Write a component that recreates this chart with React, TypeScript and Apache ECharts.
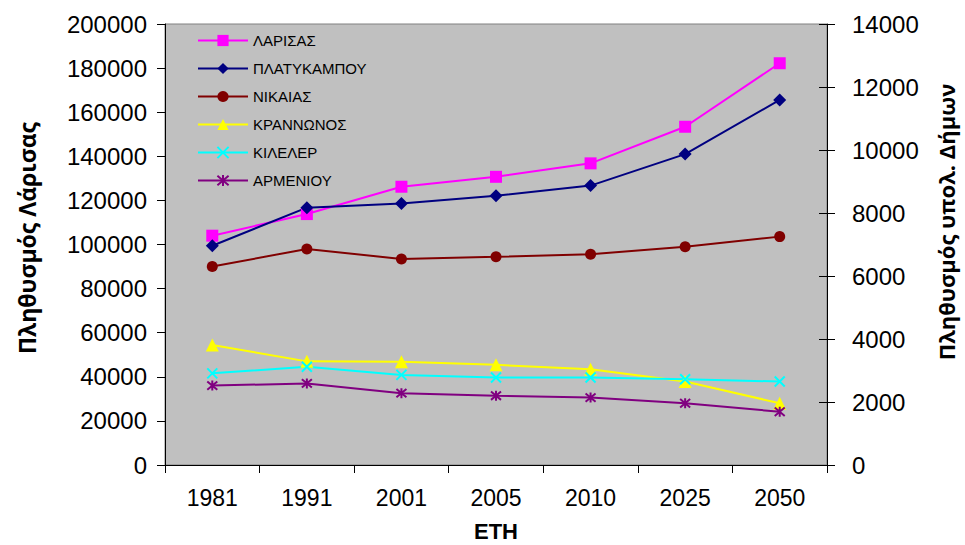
import React, { useEffect, useRef } from "react";
import * as echarts from "echarts";

// Census years and projections
const years = ["1981", "1991", "2001", "2005", "2010", "2025", "2050"];

// Population of Larissa (left axis)
const larisa = [104000, 113800, 126200, 130700, 136800, 153400, 182200];

// Populations of the remaining municipalities (right axis)
const platykampos = [6960, 8170, 8300, 8550, 8870, 9870, 11590];
const nikaia = [6300, 6860, 6540, 6610, 6690, 6930, 7250];
const krannon = [3810, 3290, 3280, 3180, 3040, 2650, 1960];
const kileler = [2910, 3120, 2860, 2780, 2780, 2720, 2650];
const armenio = [2520, 2590, 2280, 2200, 2140, 1960, 1690];

const leftTicks = { min: 0, max: 200000, interval: 20000 };
const rightTicks = { min: 0, max: 14000, interval: 2000 };

const FONT = "'Liberation Sans', Arial, sans-serif";
const TITLE_FONT = "'Open Sans', 'DejaVu Sans', sans-serif";

const CROSS = "path://M0,0L10,10M10,0L0,10";
const STAR = "path://M0,0L10,10M10,0L0,10M5,-1L5,11";

export default function App() {
  const ref = useRef<HTMLDivElement>(null);

  useEffect(() => {
    const chart = echarts.init(ref.current!, null, { renderer: "svg" });

    const line = (
      name: string,
      data: number[],
      color: string,
      symbol: string,
      symbolSize: number,
      yAxisIndex: number,
      stroked = false
    ) => ({
      name,
      type: "line",
      data,
      yAxisIndex,
      symbol,
      symbolSize,
      showSymbol: true,
      lineStyle: { color, width: 2 },
      itemStyle: stroked
        ? { color, borderColor: color, borderWidth: 2 }
        : { color, borderColor: color, borderWidth: 0 },
      emphasis: { disabled: true },
    });

    chart.setOption({
      animation: false,
      backgroundColor: "#ffffff",
      grid: {
        left: 165,
        right: 138,
        top: 24,
        bottom: 80,
        show: true,
        backgroundColor: "#C0C0C0",
        borderColor: "#808080",
        borderWidth: 1,
      },
      legend: {
        orient: "vertical",
        left: 192,
        top: 28,
        itemWidth: 50,
        itemHeight: 14,
        itemGap: 13,
        textStyle: { fontFamily: FONT, fontSize: 15, color: "#000" },
        data: ["ΛΑΡΙΣΑΣ", "ΠΛΑΤΥΚΑΜΠΟΥ", "ΝΙΚΑΙΑΣ", "ΚΡΑΝΝΩΝΟΣ", "ΚΙΛΕΛΕΡ", "ΑΡΜΕΝΙΟΥ"],
      },
      xAxis: {
        type: "category",
        data: years,
        boundaryGap: true,
        axisLine: { lineStyle: { color: "#000", width: 1 } },
        axisTick: { show: true, inside: false, length: 8, lineStyle: { color: "#000" } },
        axisLabel: { color: "#000", fontFamily: FONT, fontSize: 23, margin: 21 },
        splitLine: { show: false },
      },
      yAxis: [
        {
          type: "value",
          position: "left",
          ...leftTicks,
          axisLine: { show: true, lineStyle: { color: "#000", width: 1 } },
          axisTick: { show: true, inside: false, length: 8, lineStyle: { color: "#000" } },
          axisLabel: {
            color: "#000",
            fontFamily: FONT,
            fontSize: 24,
            margin: 18,
            formatter: (v: number) => String(v),
          },
          splitLine: { show: false },
        },
        {
          type: "value",
          position: "right",
          ...rightTicks,
          axisLine: { show: true, lineStyle: { color: "#000", width: 1 } },
          axisTick: { show: true, inside: false, length: 8, lineStyle: { color: "#000" } },
          axisLabel: {
            color: "#000",
            fontFamily: FONT,
            fontSize: 24,
            margin: 25,
            formatter: (v: number) => String(v),
          },
          splitLine: { show: false },
        },
        {
          // inner half of the right axis' crossing ticks
          type: "value",
          position: "right",
          ...rightTicks,
          axisLine: { show: false },
          axisTick: { show: true, inside: true, length: 8, lineStyle: { color: "#000" } },
          axisLabel: { show: false },
          splitLine: { show: false },
        },
      ],
      series: [
        line("ΛΑΡΙΣΑΣ", larisa, "#FF00FF", "rect", 12, 0),
        line("ΠΛΑΤΥΚΑΜΠΟΥ", platykampos, "#000080", "diamond", 13, 1),
        line("ΝΙΚΑΙΑΣ", nikaia, "#800000", "circle", 11, 1),
        line("ΚΡΑΝΝΩΝΟΣ", krannon, "#FFFF00", "triangle", 13, 1),
        line("ΚΙΛΕΛΕΡ", kileler, "#00FFFF", CROSS, 10, 1, true),
        line("ΑΡΜΕΝΙΟΥ", armenio, "#800080", STAR, 10, 1, true),
      ],
      graphic: [
        {
          type: "text",
          x: 27,
          y: 238,
          rotation: Math.PI / 2,
          style: {
            text: "Πληθυσμός Λάρισας",
            fontFamily: TITLE_FONT,
            fontWeight: "bold",
            fontSize: 23,
            fill: "#000",
            align: "center",
            verticalAlign: "middle",
          },
        },
        {
          type: "text",
          x: 946,
          y: 222,
          rotation: Math.PI / 2,
          style: {
            text: "Πληθυσμός υπολ. Δήμων",
            fontFamily: TITLE_FONT,
            fontWeight: "bold",
            fontSize: 22,
            fill: "#000",
            align: "center",
            verticalAlign: "middle",
          },
        },
        {
          type: "text",
          x: 496,
          y: 531,
          style: {
            text: "ΕΤΗ",
            fontFamily: FONT,
            fontWeight: "bold",
            fontSize: 22,
            fill: "#000",
            align: "center",
            verticalAlign: "middle",
          },
        },
      ],
    });

    return () => chart.dispose();
  }, []);

  return (
    <div
      ref={ref}
      style={{ position: "absolute", left: 0, top: 0, width: 965, height: 545, background: "#fff" }}
    />
  );
}
